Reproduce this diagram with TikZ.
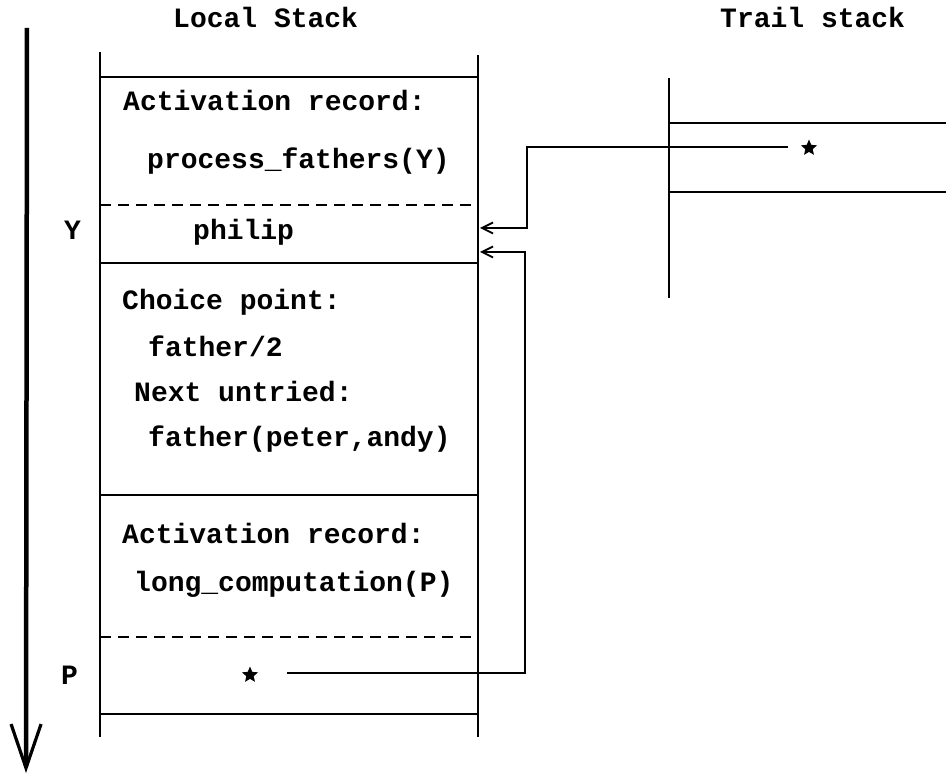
\documentclass[tikz,border=0pt]{standalone}
\usepackage{fontspec}
\setmonofont{Liberation Mono}
\usetikzlibrary{arrows.meta,shapes.geometric}
\begin{document}
\begin{tikzpicture}[x=1pt,y=-1pt,
  txt/.style={anchor=base west,inner sep=0pt,font=\ttfamily\bfseries\fontsize{28}{30}\selectfont},
  starmark/.style={star,star points=5,star point ratio=2.2,fill=black,inner sep=0pt,minimum size=17pt},
  wall/.style={line width=2.5pt},
  dash line/.style={line width=2.6pt,dash pattern=on 11pt off 7pt},
  conn/.style={line width=1.8pt},
  arr/.style={conn,-{Straight Barb[length=11pt,width=11pt,line width=1.8pt]}},
  bigarr/.style={line width=4.5pt,-{Straight Barb[length=44pt,width=30pt,line width=3.2pt]}}]
\useasboundingbox (0,0) rectangle (946,775);
% time arrow
\coordinate (at) at (27,28);
\coordinate (ab) at (26,773);
\draw[bigarr] (at) -- (ab);
% titles
\node[txt] (lst) at (173,28) {Local Stack};
\node[txt] (tst) at (720,28) {Trail stack};
% local stack walls
\coordinate (lwt) at (100,52);
\coordinate (lwb) at (100,737);
\coordinate (rwt) at (478,55);
\coordinate (rwb) at (478,737);
\draw[wall] (lwt) -- (lwb);
\draw[wall] (rwt) -- (rwb);
% separators
\draw[wall] (100,77) -- (478,77);
\draw[dash line] (100,205) -- (472,205);
\draw[wall] (100,263) -- (478,263);
\draw[wall] (100,495) -- (478,495);
\draw[dash line] (100,637) -- (472,637);
\draw[wall] (100,714) -- (478,714);
% texts
\node[txt] (ar1) at (123,111) {Activation record:};
\node[txt] (pf) at (147,169) {process\_fathers(Y)};
\node[txt] (yl) at (64,240) {Y};
\node[txt] (ph) at (193,240) {philip};
\node[txt] (cp) at (122,310) {Choice point:};
\node[txt] (f2) at (148,357) {father/2};
\node[txt] (nu) at (134,402) {Next untried:};
\node[txt] (fpa) at (148,447) {father(peter,andy)};
\node[txt] (ar2) at (122,544) {Activation record:};
\node[txt] (lc) at (134,591) {long\_computation(P)};
\node[txt] (pl) at (61,684) {P};
\node[starmark] (ps) at (250,675) {};
% trail stack
\draw[wall] (669,78) -- (669,298);
\draw[wall] (669,123) -- (946,123);
\draw[wall] (669,192) -- (946,192);
\node[starmark] (ts) at (809,148) {};
% connectors
\coordinate (s1) at (788,147);
\coordinate (k1) at (527,147);
\coordinate (y1) at (480,228);
\coordinate (s2) at (287,673);
\coordinate (k2) at (525,673);
\coordinate (y2) at (480,252);
\draw[arr] (s1) -- (k1) |- (y1);
\draw[arr] (s2) -- (k2) |- (y2);
\end{tikzpicture}
\end{document}
